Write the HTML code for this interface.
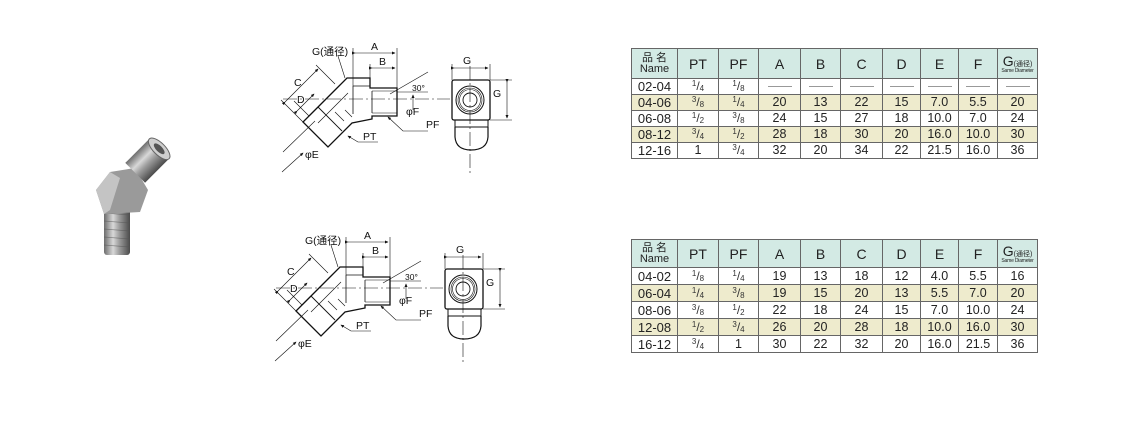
<!DOCTYPE html>
<html><head><meta charset="utf-8"><style>
body{margin:0;width:1140px;height:446px;background:#fff;position:relative;overflow:hidden;font-family:"Liberation Sans","Noto Sans CJK SC",sans-serif;}
table{position:absolute;border-collapse:collapse;table-layout:fixed;width:406px;color:#222;}
td{border:1px solid #666;text-align:center;padding:0;font-size:12.5px;line-height:1;white-space:nowrap;overflow:hidden;}
tr.h td{background:#d3eae4;font-size:14px;}
tr.s td{background:#eeebcd;}
td:first-child{font-size:13px;}
.nm{font-size:11px;line-height:11px;display:block;}
.fr{font-size:12px;color:#333}
.fr sup{font-size:8px;vertical-align:4px}
.fr sub{font-size:8px;vertical-align:-1px}
.g small{font-size:7px;}
.sd{display:block;font-size:5px;line-height:6px;letter-spacing:-0.2px}
.dash{display:inline-block;width:24px;border-top:1px solid #999;vertical-align:middle}
svg text{font-family:"Liberation Sans","Noto Sans CJK SC",sans-serif;fill:#111;}
</style></head><body>

<svg width="1140" height="446" style="position:absolute;left:0;top:0">
<defs>
<linearGradient id="m" x1="0" x2="1"><stop offset="0" stop-color="#6d6d6d"/><stop offset=".35" stop-color="#d8d8d8"/><stop offset=".6" stop-color="#9a9a9a"/><stop offset="1" stop-color="#4a4a4a"/></linearGradient>
<marker id="ar" markerWidth="6" markerHeight="6" refX="5" refY="3" orient="auto"><path d="M0,0.5 L6,3 L0,5.5z" fill="#111"/></marker>
<g id="dw" stroke="#111" fill="none" stroke-width="1">
  <!-- body outline -->
  <path d="M347,78 L370,78 L370,88 L397,88 L397,116 L372,116 L372,119 L352,123 L328,147 L303,122 Z" stroke-width="1.3"/>
  <line x1="372" y1="91" x2="397" y2="91" stroke-width=".6"/>
  <line x1="372" y1="113" x2="397" y2="113" stroke-width=".6"/>
  <line x1="372" y1="91" x2="372" y2="113" stroke-width=".8"/>
  <line x1="353" y1="86" x2="353" y2="114" stroke-width=".8"/>
  <line x1="353" y1="86" x2="370" y2="86" stroke-width=".8"/>
  <!-- leg inner lines -->
  <line x1="340" y1="85" x2="309" y2="116" stroke-width="1"/>
  <line x1="348" y1="93" x2="318" y2="123" stroke-width=".6"/>
  <line x1="318" y1="107" x2="342" y2="131" stroke-width=".9"/>
  <line x1="335" y1="112" x2="344" y2="121" stroke-width=".6"/>
  <line x1="345" y1="110" x2="352" y2="117" stroke-width=".6"/>
  <!-- centerline -->
  <line x1="283" y1="99" x2="450" y2="99" stroke-width=".6" stroke-dasharray="14,3,2,3"/>
  <!-- A B dims -->
  <line x1="353" y1="48" x2="353" y2="86" stroke-width=".6"/>
  <line x1="397" y1="48" x2="397" y2="88" stroke-width=".6"/>
  <line x1="370" y1="64" x2="370" y2="78" stroke-width=".6"/>
  <line x1="355" y1="53" x2="395" y2="53" stroke-width=".6" marker-start="url(#ar)" marker-end="url(#ar)"/>
  <line x1="372" y1="68" x2="395" y2="68" stroke-width=".6" marker-start="url(#ar)" marker-end="url(#ar)"/>
  <!-- G leader -->
  <line x1="338" y1="56" x2="345" y2="78" stroke-width=".6"/>
  <!-- C D dims -->
  <line x1="303" y1="122" x2="281" y2="100" stroke-width=".6"/>
  <line x1="335" y1="84" x2="316" y2="65" stroke-width=".6"/>
  <line x1="285" y1="102" x2="318" y2="69" stroke-width=".6" marker-start="url(#ar)" marker-end="url(#ar)"/>
  <line x1="309" y1="116" x2="294" y2="101" stroke-width=".6"/>
  <line x1="297" y1="111" x2="314" y2="94" stroke-width=".6" marker-start="url(#ar)" marker-end="url(#ar)"/>
  <!-- 30 deg -->
  <line x1="390" y1="94" x2="428" y2="72" stroke-width=".6"/>
  <line x1="397" y1="92" x2="428" y2="92" stroke-width=".6"/>
  <line x1="413" y1="110" x2="413" y2="95" stroke-width=".6" marker-end="url(#ar)"/>
  <!-- PF leader -->
  <polyline points="428,131 403,131 388,117" stroke-width=".6" marker-end="url(#ar)"/>
  <!-- PT leader -->
  <polyline points="378,142 358,142 348,136" stroke-width=".6" marker-end="url(#ar)"/>
  <!-- phi E -->
  <line x1="283" y1="152" x2="315" y2="121" stroke-width=".6"/>
  <line x1="282" y1="172" x2="303" y2="153" stroke-width=".6" marker-end="url(#ar)"/>
  <!-- right view -->
  <rect x="452" y="80" width="38" height="40" rx="2" stroke-width="1.3"/>
  <rect x="455" y="120" width="33" height="7" stroke-width="1"/>
  <path d="M455,127 L455,137 Q456,150 471,150 Q487,150 488,137 L488,127" stroke-width="1.2"/>
  <circle cx="470" cy="100" r="14" stroke-width="1"/>
  <circle cx="470" cy="100" r="12" stroke-width=".6"/>
  <circle cx="470" cy="100" r="10.5" stroke-width=".6"/>
  <circle cx="470" cy="100" r="7" stroke-width=".9"/>
  <line x1="470" y1="66" x2="470" y2="173" stroke-width=".6" stroke-dasharray="14,3,2,3"/>
  <line x1="452" y1="64" x2="452" y2="80" stroke-width=".6"/>
  <line x1="490" y1="64" x2="490" y2="80" stroke-width=".6"/>
  <line x1="454" y1="68" x2="488" y2="68" stroke-width=".6" marker-start="url(#ar)" marker-end="url(#ar)"/>
  <line x1="490" y1="80" x2="512" y2="80" stroke-width=".6"/>
  <line x1="490" y1="120" x2="512" y2="120" stroke-width=".6"/>
  <line x1="507" y1="82" x2="507" y2="118" stroke-width=".6" marker-start="url(#ar)" marker-end="url(#ar)"/>
  <g stroke="none">
  <text x="312" y="55" font-size="10.5">G(通径)</text>
  <text x="371" y="50" font-size="10.5">A</text>
  <text x="379" y="65" font-size="10.5">B</text>
  <text x="294" y="86" font-size="10.5">C</text>
  <text x="297" y="103" font-size="10.5">D</text>
  <text x="412" y="91" font-size="8.5">30°</text>
  <text x="406" y="115" font-size="10.5">φF</text>
  <text x="426" y="128" font-size="10.5">PF</text>
  <text x="363" y="140" font-size="10.5">PT</text>
  <text x="305" y="158" font-size="10.5">φE</text>
  <text x="463" y="64" font-size="10.5">G</text>
  <text x="493" y="97" font-size="10.5">G</text>
  </g>
</g>
</defs>
<use href="#dw"/>
<use href="#dw" transform="translate(-7,189)"/>

<!-- photo of fitting -->
<g>
  <rect x="104" y="205" width="26" height="50" rx="3" fill="url(#m)"/>
  <g stroke="#555" stroke-width=".7" opacity=".6">
    <line x1="104" y1="213" x2="130" y2="215"/><line x1="104" y1="221" x2="130" y2="223"/>
    <line x1="104" y1="229" x2="130" y2="231"/><line x1="104" y1="237" x2="130" y2="239"/>
    <line x1="104" y1="245" x2="130" y2="247"/>
  </g>
  <polygon points="96,190 110,172 135,168 148,190 140,212 104,214" fill="#9a9a9a"/>
  <polygon points="96,190 110,172 120,178 110,210 104,214" fill="#c4c4c4"/>
  <g transform="translate(138,170) rotate(45)">
    <rect x="-14" y="-30" width="28" height="34" fill="url(#m)"/>
    <ellipse cx="0" cy="-30" rx="14" ry="6" fill="#cfcfcf" stroke="#666"/>
    <ellipse cx="0" cy="-30" rx="7" ry="3" fill="#555"/>
  </g>
</g>
</svg>

<table style="left:631px;top:48px">
<colgroup><col style="width:46px"><col style="width:41px"><col style="width:40px"><col style="width:42px"><col style="width:40px"><col style="width:42px"><col style="width:38px"><col style="width:38px"><col style="width:39px"><col style="width:40px"></colgroup>
<tr class="h" style="height:30px"><td><span class="nm">品 名</span><span class="nm">Name</span></td><td>PT</td><td>PF</td><td>A</td><td>B</td><td>C</td><td>D</td><td>E</td><td>F</td><td class="g">G<small>(通径)</small><span class="sd">Same Diameter</span></td></tr>
<tr style="height:16px"><td>02-04</td><td class="fr"><sup>1</sup>/<sub>4</sub></td><td class="fr"><sup>1</sup>/<sub>8</sub></td><td><span class="dash"></span></td><td><span class="dash"></span></td><td><span class="dash"></span></td><td><span class="dash"></span></td><td><span class="dash"></span></td><td><span class="dash"></span></td><td><span class="dash"></span></td></tr>
<tr class="s" style="height:16px"><td>04-06</td><td class="fr"><sup>3</sup>/<sub>8</sub></td><td class="fr"><sup>1</sup>/<sub>4</sub></td><td>20</td><td>13</td><td>22</td><td>15</td><td>7.0</td><td>5.5</td><td>20</td></tr>
<tr style="height:16px"><td>06-08</td><td class="fr"><sup>1</sup>/<sub>2</sub></td><td class="fr"><sup>3</sup>/<sub>8</sub></td><td>24</td><td>15</td><td>27</td><td>18</td><td>10.0</td><td>7.0</td><td>24</td></tr>
<tr class="s" style="height:16px"><td>08-12</td><td class="fr"><sup>3</sup>/<sub>4</sub></td><td class="fr"><sup>1</sup>/<sub>2</sub></td><td>28</td><td>18</td><td>30</td><td>20</td><td>16.0</td><td>10.0</td><td>30</td></tr>
<tr style="height:16px"><td>12-16</td><td>1</td><td class="fr"><sup>3</sup>/<sub>4</sub></td><td>32</td><td>20</td><td>34</td><td>22</td><td>21.5</td><td>16.0</td><td>36</td></tr>
</table>

<table style="left:631px;top:239px">
<colgroup><col style="width:46px"><col style="width:41px"><col style="width:40px"><col style="width:42px"><col style="width:40px"><col style="width:42px"><col style="width:38px"><col style="width:38px"><col style="width:39px"><col style="width:40px"></colgroup>
<tr class="h" style="height:28px"><td><span class="nm">品 名</span><span class="nm">Name</span></td><td>PT</td><td>PF</td><td>A</td><td>B</td><td>C</td><td>D</td><td>E</td><td>F</td><td class="g">G<small>(通径)</small><span class="sd">Same Diameter</span></td></tr>
<tr style="height:17px"><td>04-02</td><td class="fr"><sup>1</sup>/<sub>8</sub></td><td class="fr"><sup>1</sup>/<sub>4</sub></td><td>19</td><td>13</td><td>18</td><td>12</td><td>4.0</td><td>5.5</td><td>16</td></tr>
<tr class="s" style="height:17px"><td>06-04</td><td class="fr"><sup>1</sup>/<sub>4</sub></td><td class="fr"><sup>3</sup>/<sub>8</sub></td><td>19</td><td>15</td><td>20</td><td>13</td><td>5.5</td><td>7.0</td><td>20</td></tr>
<tr style="height:17px"><td>08-06</td><td class="fr"><sup>3</sup>/<sub>8</sub></td><td class="fr"><sup>1</sup>/<sub>2</sub></td><td>22</td><td>18</td><td>24</td><td>15</td><td>7.0</td><td>10.0</td><td>24</td></tr>
<tr class="s" style="height:17px"><td>12-08</td><td class="fr"><sup>1</sup>/<sub>2</sub></td><td class="fr"><sup>3</sup>/<sub>4</sub></td><td>26</td><td>20</td><td>28</td><td>18</td><td>10.0</td><td>16.0</td><td>30</td></tr>
<tr style="height:17px"><td>16-12</td><td class="fr"><sup>3</sup>/<sub>4</sub></td><td>1</td><td>30</td><td>22</td><td>32</td><td>20</td><td>16.0</td><td>21.5</td><td>36</td></tr>
</table>
</body></html>
